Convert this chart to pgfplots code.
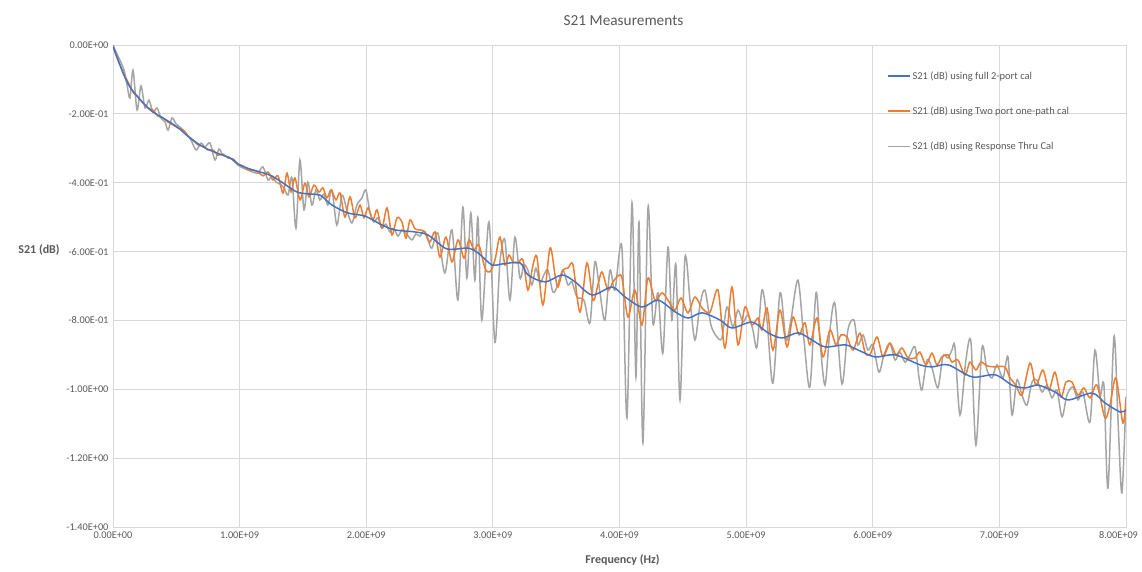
\documentclass[border=0pt]{standalone}
\usepackage{fontspec}
\setmainfont{Carlito}
\usepackage{pgfplots}
\pgfplotsset{compat=1.18}

\definecolor{xlblue}{HTML}{4472C4}
\definecolor{xlorange}{HTML}{ED7D31}
\definecolor{xlgray}{HTML}{A5A5A5}
\definecolor{txtgray}{HTML}{595959}
\definecolor{gridgray}{HTML}{D9D9D9}

\begin{document}
\begin{tikzpicture}[x=1pt,y=1pt]
\path[use as bounding box] (0,0) rectangle (1142,571);
\begin{axis}[
  at={(113pt,44pt)}, anchor=south west,
  scale only axis, width=1013pt, height=482pt,
  xmin=0, xmax=8, ymin=-1.4, ymax=0,
  xtick={0,1,...,8},
  xticklabels={0.00E+00,1.00E+09,2.00E+09,3.00E+09,4.00E+09,5.00E+09,6.00E+09,7.00E+09,\makebox[24pt][r]{8.00E+09}},
  ytick={-1.4,-1.2,-1,-0.8,-0.6,-0.4,-0.2,0},
  yticklabels={-1.40E+00,-1.20E+00,-1.00E+00,-8.00E-01,-6.00E-01,-4.00E-01,-2.00E-01,0.00E+00},
  major tick length=0pt,
  grid=major,
  major grid style={draw=gridgray, line width=0.8pt},
  axis line style={draw=gridgray, line width=0.8pt},
  tick label style={font=\fontsize{10.3}{12}\selectfont, text=txtgray},
  xticklabel style={yshift=-1pt},
  yticklabel style={xshift=-1pt},
  title={S21 Measurements},
  title style={at={(axis description cs:0.504,1.039)}, anchor=center, font=\fontsize{15.3}{18}\selectfont, text=txtgray},
  xlabel={Frequency (Hz)},
  xlabel style={at={(axis description cs:0.503,-0.068)}, anchor=center, font=\fontsize{12}{14}\selectfont\bfseries, text=txtgray},
  ylabel={S21 (dB)},
  ylabel style={at={(axis description cs:-0.073,0.575)}, anchor=center, rotate=-90, font=\fontsize{12}{14}\selectfont\bfseries, text=txtgray},
  legend style={at={(axis description cs:0.761,0.954)}, anchor=north west, draw=none, fill=none,
    font=\fontsize{10.5}{12}\selectfont, text=txtgray, row sep=22pt},
  legend cell align=left,
  legend image code/.code={\draw[#1] (0pt,0pt) -- (22pt,0pt);},
  reverse legend,
]
% drawn back to front: gray, orange, blue
\addplot[xlgray, line width=1.5pt, smooth, tension=0.5] coordinates {
(0,0) (0.024,-0.020) (0.055,-0.044) (0.087,-0.073) (0.111,-0.116) (0.134,-0.154)
(0.158,-0.073) (0.190,-0.189) (0.221,-0.119) (0.253,-0.183) (0.284,-0.160) (0.316,-0.195)
(0.348,-0.183) (0.379,-0.212) (0.411,-0.224) (0.435,-0.247) (0.466,-0.212) (0.498,-0.229)
(0.537,-0.241) (0.577,-0.256) (0.616,-0.276) (0.656,-0.305) (0.695,-0.285) (0.727,-0.296)
(0.766,-0.285) (0.805,-0.334) (0.837,-0.302) (0.868,-0.320) (0.908,-0.325) (0.947,-0.334)
(0.987,-0.349) (1.026,-0.357) (1.066,-0.363) (1.105,-0.369) (1.145,-0.372) (1.184,-0.354)
(1.224,-0.392) (1.255,-0.380) (1.287,-0.398) (1.318,-0.404) (1.350,-0.415) (1.382,-0.436)
(1.413,-0.386) (1.445,-0.532) (1.476,-0.334) (1.508,-0.479) (1.539,-0.398) (1.571,-0.465)
(1.603,-0.421) (1.634,-0.450) (1.666,-0.433) (1.697,-0.465) (1.729,-0.421) (1.768,-0.523)
(1.808,-0.436) (1.847,-0.479) (1.887,-0.517) (1.926,-0.465) (1.966,-0.444) (1.997,-0.421)
(2.029,-0.485) (2.060,-0.514) (2.092,-0.502) (2.124,-0.532) (2.155,-0.520) (2.187,-0.543)
(2.218,-0.532) (2.250,-0.555) (2.282,-0.537) (2.313,-0.546) (2.360,-0.566) (2.392,-0.549)
(2.424,-0.555) (2.455,-0.540) (2.487,-0.566) (2.518,-0.590) (2.566,-0.546) (2.621,-0.662)
(2.677,-0.537) (2.724,-0.741) (2.763,-0.471) (2.795,-0.677) (2.826,-0.488) (2.858,-0.683)
(2.882,-0.500) (2.913,-0.799) (2.969,-0.514) (3.016,-0.863) (3.056,-0.630) (3.095,-0.566)
(3.135,-0.741) (3.174,-0.558) (3.214,-0.677) (3.245,-0.639) (3.277,-0.654) (3.309,-0.697)
(3.340,-0.648) (3.372,-0.691) (3.403,-0.668) (3.435,-0.654) (3.474,-0.717) (3.506,-0.703)
(3.553,-0.654) (3.593,-0.697) (3.624,-0.688) (3.664,-0.732) (3.719,-0.741) (3.767,-0.807)
(3.806,-0.630) (3.846,-0.720) (3.885,-0.799) (3.925,-0.654) (3.964,-0.712) (4.019,-0.587)
(4.059,-1.083) (4.099,-0.459) (4.130,-0.964) (4.154,-0.514) (4.185,-1.156) (4.225,-0.473)
(4.264,-0.807) (4.304,-0.720) (4.343,-0.895) (4.383,-0.587) (4.414,-0.799) (4.446,-0.639)
(4.478,-1.031) (4.517,-0.619) (4.557,-0.741) (4.596,-0.857) (4.636,-0.755) (4.675,-0.712)
(4.722,-0.813) (4.770,-0.848) (4.809,-0.851) (4.849,-0.761) (4.896,-0.819) (4.936,-0.770)
(4.975,-0.805) (5.015,-0.784) (5.054,-0.828) (5.086,-0.877) (5.125,-0.712) (5.165,-0.799)
(5.212,-0.982) (5.268,-0.720) (5.315,-0.857) (5.354,-0.799) (5.410,-0.683) (5.457,-0.857)
(5.504,-0.993) (5.552,-0.720) (5.583,-0.857) (5.623,-0.988) (5.662,-0.828) (5.702,-0.752)
(5.757,-0.985) (5.804,-0.828) (5.852,-0.799) (5.883,-0.871) (5.923,-0.842) (5.962,-0.886)
(6.002,-0.871) (6.049,-0.950) (6.089,-0.900) (6.136,-0.866) (6.176,-0.915) (6.215,-0.892)
(6.255,-0.921) (6.294,-0.900) (6.334,-0.877) (6.365,-0.964) (6.389,-1.002) (6.428,-0.915)
(6.468,-0.938) (6.515,-0.996) (6.555,-0.903) (6.594,-0.909) (6.626,-0.886) (6.649,-0.877)
(6.689,-1.075) (6.736,-0.915) (6.776,-0.863) (6.815,-1.162) (6.863,-0.880) (6.902,-0.944)
(6.942,-0.967) (6.981,-0.929) (7.029,-0.967) (7.068,-0.906) (7.100,-1.075) (7.139,-0.973)
(7.179,-1.017) (7.218,-1.046) (7.258,-0.979) (7.297,-0.973) (7.337,-1.008) (7.376,-0.988)
(7.416,-1.025) (7.455,-1.002) (7.495,-1.080) (7.534,-1.017) (7.581,-0.993) (7.621,-1.031)
(7.660,-1.008) (7.716,-1.095) (7.755,-0.886) (7.795,-1.017) (7.826,-0.988) (7.858,-1.287)
(7.905,-0.848) (7.937,-1.089) (7.968,-1.301) (8.000,-1.022)
};
\addlegendentry{S21 (dB) using Response Thru Cal}
\addplot[xlorange, line width=1.5pt, smooth, tension=0.5] coordinates {
(0,-0.006) (0.039,-0.044) (0.079,-0.078) (0.118,-0.107) (0.158,-0.137) (0.197,-0.151)
(0.237,-0.168) (0.276,-0.183) (0.316,-0.189) (0.355,-0.206) (0.395,-0.212) (0.434,-0.224)
(0.474,-0.232) (0.513,-0.241) (0.553,-0.247) (0.592,-0.264) (0.632,-0.276) (0.671,-0.290)
(0.711,-0.293) (0.750,-0.305) (0.790,-0.305) (0.829,-0.320) (0.869,-0.317) (0.908,-0.328)
(0.948,-0.331) (0.987,-0.346) (1.027,-0.351) (1.066,-0.363) (1.106,-0.363) (1.145,-0.369)
(1.185,-0.380) (1.224,-0.369) (1.264,-0.392) (1.303,-0.380) (1.343,-0.430) (1.374,-0.372)
(1.406,-0.427) (1.437,-0.386) (1.477,-0.450) (1.516,-0.401) (1.548,-0.441) (1.587,-0.407)
(1.627,-0.427) (1.658,-0.415) (1.690,-0.444) (1.722,-0.421) (1.761,-0.450) (1.793,-0.430)
(1.832,-0.500) (1.872,-0.441) (1.911,-0.502) (1.951,-0.465) (1.982,-0.502) (2.014,-0.473)
(2.053,-0.508) (2.085,-0.479) (2.124,-0.532) (2.164,-0.473) (2.203,-0.552) (2.243,-0.502)
(2.282,-0.514) (2.314,-0.561) (2.346,-0.508) (2.385,-0.534) (2.424,-0.537) (2.464,-0.543)
(2.503,-0.572) (2.543,-0.543) (2.582,-0.616) (2.630,-0.558) (2.677,-0.630) (2.725,-0.566)
(2.772,-0.619) (2.811,-0.566) (2.851,-0.595) (2.890,-0.581) (2.938,-0.648) (2.977,-0.659)
(3.017,-0.624) (3.056,-0.558) (3.096,-0.639) (3.127,-0.610) (3.159,-0.630) (3.198,-0.633)
(3.238,-0.624) (3.277,-0.712) (3.317,-0.639) (3.348,-0.616) (3.396,-0.755) (3.451,-0.590)
(3.491,-0.668) (3.514,-0.703) (3.554,-0.654) (3.593,-0.648) (3.633,-0.639) (3.688,-0.776)
(3.743,-0.633) (3.791,-0.741) (3.830,-0.697) (3.862,-0.659) (3.909,-0.712) (3.949,-0.688)
(3.988,-0.671) (4.020,-0.677) (4.067,-0.790) (4.122,-0.712) (4.178,-0.813) (4.225,-0.677)
(4.280,-0.741) (4.336,-0.720) (4.383,-0.741) (4.438,-0.770) (4.486,-0.735) (4.541,-0.778)
(4.596,-0.732) (4.652,-0.764) (4.715,-0.776) (4.778,-0.712) (4.833,-0.880) (4.888,-0.703)
(4.936,-0.871) (4.991,-0.761) (5.046,-0.813) (5.094,-0.793) (5.125,-0.828) (5.165,-0.764)
(5.212,-0.886) (5.268,-0.770) (5.323,-0.877) (5.370,-0.790) (5.418,-0.842) (5.465,-0.807)
(5.504,-0.871) (5.560,-0.793) (5.607,-0.906) (5.662,-0.828) (5.710,-0.871) (5.749,-0.842)
(5.797,-0.848) (5.844,-0.886) (5.899,-0.837) (5.939,-0.892) (5.978,-0.900) (6.034,-0.848)
(6.081,-0.906) (6.136,-0.866) (6.184,-0.900) (6.231,-0.880) (6.278,-0.909) (6.334,-0.909)
(6.373,-0.892) (6.421,-0.929) (6.468,-0.895) (6.507,-0.929) (6.547,-0.906) (6.594,-0.900)
(6.626,-0.921) (6.673,-0.915) (6.729,-0.959) (6.768,-0.921) (6.815,-0.944) (6.855,-0.921)
(6.902,-0.932) (6.965,-0.935) (7.044,-0.935) (7.084,-0.967) (7.131,-0.988) (7.179,-1.017)
(7.242,-0.924) (7.289,-0.988) (7.344,-0.944) (7.392,-1.002) (7.439,-0.950) (7.487,-1.022)
(7.526,-0.979) (7.574,-0.979) (7.621,-1.017) (7.668,-0.996) (7.716,-1.025) (7.771,-0.988)
(7.834,-1.083) (7.874,-1.046) (7.921,-0.967) (7.976,-1.098) (8.000,-1.031)
};
\addlegendentry{S21 (dB) using Two port one-path cal}
\addplot[xlblue, line width=1.5pt, smooth, tension=0.5] coordinates {
(0,-0.003) (0.079,-0.081) (0.134,-0.122) (0.237,-0.168) (0.316,-0.195) (0.395,-0.212)
(0.506,-0.238) (0.608,-0.270) (0.711,-0.296) (0.822,-0.314) (0.924,-0.328) (1.003,-0.349)
(1.106,-0.363) (1.240,-0.378) (1.343,-0.401) (1.453,-0.427) (1.556,-0.433) (1.635,-0.436)
(1.730,-0.465) (1.856,-0.488) (1.991,-0.497) (2.125,-0.523) (2.227,-0.537) (2.385,-0.543)
(2.488,-0.552) (2.622,-0.590) (2.701,-0.593) (2.804,-0.590) (2.883,-0.604) (2.994,-0.639)
(3.073,-0.636) (3.215,-0.633) (3.278,-0.668) (3.412,-0.688) (3.547,-0.668) (3.649,-0.688)
(3.784,-0.726) (3.942,-0.703) (4.044,-0.732) (4.179,-0.761) (4.305,-0.741) (4.439,-0.775)
(4.542,-0.793) (4.652,-0.778) (4.795,-0.799) (4.889,-0.822) (5.047,-0.805) (5.174,-0.836)
(5.284,-0.851) (5.411,-0.836) (5.521,-0.857) (5.624,-0.877) (5.782,-0.871) (5.885,-0.886)
(6.019,-0.906) (6.177,-0.900) (6.374,-0.929) (6.469,-0.935) (6.596,-0.929) (6.785,-0.964)
(6.967,-0.958) (7.101,-0.988) (7.204,-0.996) (7.306,-0.988) (7.441,-1.008) (7.543,-1.031)
(7.733,-1.011) (7.836,-1.040) (7.954,-1.066) (8.000,-1.060)
};
\addlegendentry{S21 (dB) using full 2-port cal}
\end{axis}
\end{tikzpicture}
\end{document}
